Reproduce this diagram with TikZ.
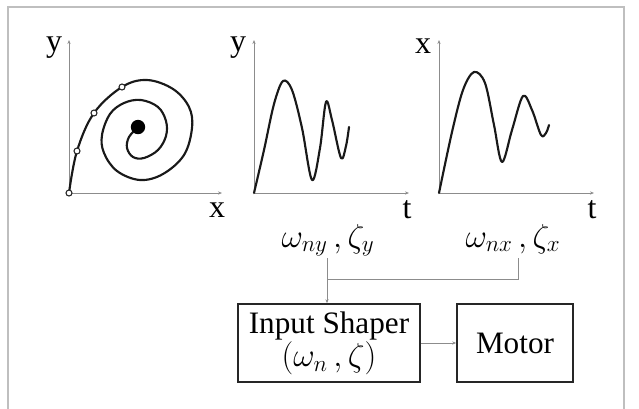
\documentclass[tikz,border=0pt]{standalone}
\usepackage{fontspec}
\setmainfont{Liberation Serif}
\usetikzlibrary{arrows.meta}
\begin{document}
\begin{tikzpicture}[x=0.75pt,y=-0.75pt,
  axis/.style={draw=black!45, line width=0.6pt, -{Stealth[length=3pt,width=2.4pt]}},
  curve/.style={draw=black!90, line width=1.6pt, line cap=round, line join=round},
  lbl/.style={font=\fontsize{24}{26}\selectfont, inner sep=0pt, anchor=base},
  mlbl/.style={font=\fontsize{25}{27}\selectfont, inner sep=0pt, anchor=base},
  conn/.style={draw=black!45, line width=0.7pt},
  blk/.style={draw=black!85, line width=1.2pt, rectangle, inner sep=0pt, align=center, font=\fontsize{23.4}{22}\selectfont, minimum height=58.5pt},
  pt/.style={circle, draw=black!85, fill=white, line width=0.8pt, inner sep=0pt, minimum size=4.5pt}]
\useasboundingbox (0,0) rectangle (639,408);
\clip (0,0) rectangle (639,408);
\fill[white] (0,0) rectangle (639,408);
% frame
\draw[draw=black!25, line width=1.6pt] (8,7) rectangle (624,430);

% ---- plot 1: phase plane
\coordinate (o1) at (69,193);
\coordinate (y1) at (69,40);
\coordinate (x1) at (222,193);
\draw[axis] (o1) -- (y1);
\draw[axis] (o1) -- (x1);
\node[lbl] (ly1) at (54,51) {y};
\node[lbl] (lx1) at (217,217) {x};
\draw[curve] plot[smooth, tension=0.6] coordinates {
 (69,193) (77,151) (94,113) (122,87) (147,80) (173,89) (189,107) (192,128) (184,155) (163,174) (140,180) (117,171) (104,153) (102,135) (110,114) (124,103) (141,100) (158,107) (166,121) (166,136) (158,150) (144,158) (133,157) (127,148) (129,137) (138,127)};
\fill[black] (138,127) circle (5.4pt);
\node[pt] (p0) at (69,193) {};
\node[pt] (p1) at (77,151) {};
\node[pt] (p2) at (94,113) {};
\node[pt] (p3) at (122,87) {};

% ---- plot 2: y(t)
\coordinate (o2) at (254,193);
\coordinate (y2) at (254,40);
\coordinate (x2) at (409,193);
\draw[axis] (o2) -- (y2);
\draw[axis] (o2) -- (x2);
\node[lbl] (ly2) at (238,51) {y};
\node[lbl] (lt2) at (407,218) {t};
\draw[curve] plot[smooth, tension=0.55] coordinates {
 (254,193) (264,150) (274,104) (283,81) (292,90) (302,128) (312,180) (320,148) (326,102) (332,120) (341,158) (346,146) (349,127)};

% ---- plot 3: x(t)
\coordinate (o3) at (439,193);
\coordinate (y3) at (439,40);
\coordinate (x3) at (594,193);
\draw[axis] (o3) -- (y3);
\draw[axis] (o3) -- (x3);
\node[lbl] (ly3) at (423,53) {x};
\node[lbl] (lt3) at (592,218) {t};
\draw[curve] plot[smooth, tension=0.55] coordinates {
 (439,193) (452,132) (463,90) (474,72) (485,83) (494,125) (502,162) (512,130) (523,96) (532,110) (541,135) (546,133) (549,125)};

% ---- parameter labels
\node[mlbl] (py) at (328,247) {$\omega_{ny}\,,\zeta_y$};
\node[mlbl] (px) at (513,247) {$\omega_{nx}\,,\zeta_x$};

% ---- blocks
\node[blk, minimum width=136.5pt] (shaper) at (329,343) {Input Shaper\\$(\omega_n\,,\zeta)$};
\node[blk, minimum width=87pt] (motor) at (515,343) {Motor};

% ---- connectors
\coordinate (cy) at (327,258);
\coordinate (cx) at (518,258);
\coordinate (jx) at (518,279);
\coordinate (jy) at (327,279);
\draw[conn] (cx) -- (jx) -- (jy);
\draw[conn, -{Stealth[length=3pt,width=2.4pt]}] (cy) -- (cy |- shaper.north);
\draw[conn, -{Stealth[length=3pt,width=2.4pt]}] (shaper) -- (motor);
\end{tikzpicture}
\end{document}
